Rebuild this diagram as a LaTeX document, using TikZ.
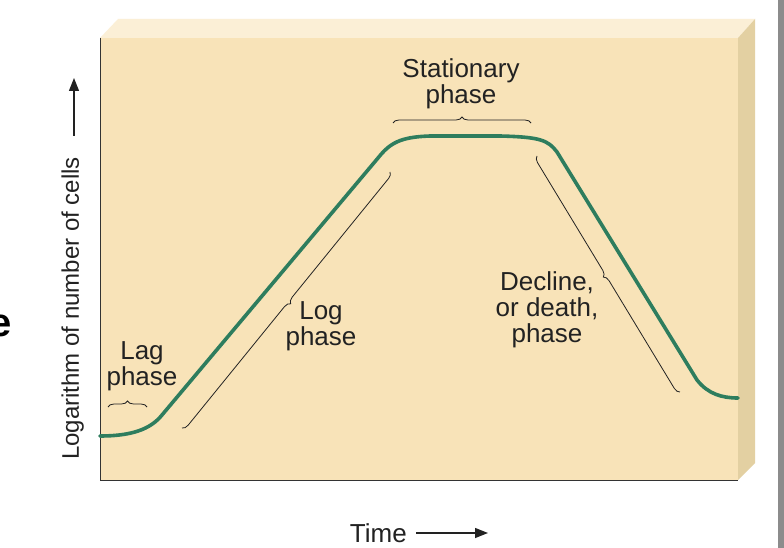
\documentclass[tikz,border=0pt]{standalone}
\usepackage{fontspec}
\setmainfont{Liberation Sans}
\usetikzlibrary{decorations.pathreplacing,arrows.meta}
\definecolor{panel}{HTML}{F8E3B8}
\definecolor{paneltop}{HTML}{FBEFD6}
\definecolor{panelside}{HTML}{E3D0A2}
\definecolor{curve}{HTML}{2E7D5E}
\definecolor{ink}{HTML}{222222}
\begin{document}
\begin{tikzpicture}[x=1pt,y=-1pt,
  lbl/.style={font=\fontsize{26}{26}\selectfont,align=center,text=ink,inner sep=0pt},
  brc/.style={draw=ink,line width=0.8pt,decorate,decoration={brace,amplitude=6pt}},
  axarrow/.style={-{Triangle[length=13pt,width=10pt]},line width=1.4pt,draw=ink},
  growth/.style={draw=curve,line width=3.6pt,line cap=round}]
\useasboundingbox (0,0) rectangle (784,548);
\fill[white] (0,0) rectangle (784,548);
\fill[black!45] (778,0) rectangle (784,548);
% 3D panel
\fill[paneltop] (100,38) -- (118,19) -- (755,19) -- (738,38) -- cycle;
\fill[panelside] (738,38) -- (755,19) -- (755,463) -- (738,480) -- cycle;
\fill[panel] (100,38) rectangle (738,480);
\draw[black!80,line width=1pt] (100,38) -- (100,480) -- (738,480);
% curve
\draw[growth] (100,436) .. controls (130,436) and (150,430) .. (162,415)
  -- (378,158) .. controls (390,143) and (400,137) .. (430,136)
  -- (500,136) .. controls (540,137) and (548,140) .. (557,152)
  -- (697,380) .. controls (708,394) and (722,398) .. (738,398);
% braces
\coordinate (l1) at (108,407); \coordinate (l2) at (147,407);
\draw[brc] (l1) -- (l2);
\coordinate (g1) at (182,428); \coordinate (g2) at (390,172);
\draw[brc,decoration={mirror}] (g1) -- (g2);
\coordinate (s1) at (393,123); \coordinate (s2) at (531,123);
\draw[brc] (s1) -- (s2);
\coordinate (d1) at (537,156); \coordinate (d2) at (680,392);
\draw[brc,decoration={mirror}] (d1) -- (d2);
% labels
\node[lbl] (lag) at (142,366) {Lag\\phase};
\node[lbl] (log) at (321,326) {Log\\phase};
\node[lbl] (stat) at (461,84) {Stationary\\phase};
\node[lbl] (dec) at (547,310) {Decline,\\or death,\\phase};
\node[lbl,font=\fontsize{24}{24}\selectfont,rotate=90,anchor=south west] (ylab) at (84,460) {Logarithm of number of cells};
\coordinate (ya) at (74,136); \coordinate (yb) at (74,78);
\draw[axarrow] (ya) -- (yb);
\node[lbl,anchor=east] (time) at (407,533) {Time};
\coordinate (ta) at (416,533); \coordinate (tb) at (488,533);
\draw[axarrow] (ta) -- (tb);
\node[font=\bfseries\fontsize{40}{40}\selectfont,anchor=east,inner sep=0pt] (e) at (12,326) {e};
\end{tikzpicture}
\end{document}
